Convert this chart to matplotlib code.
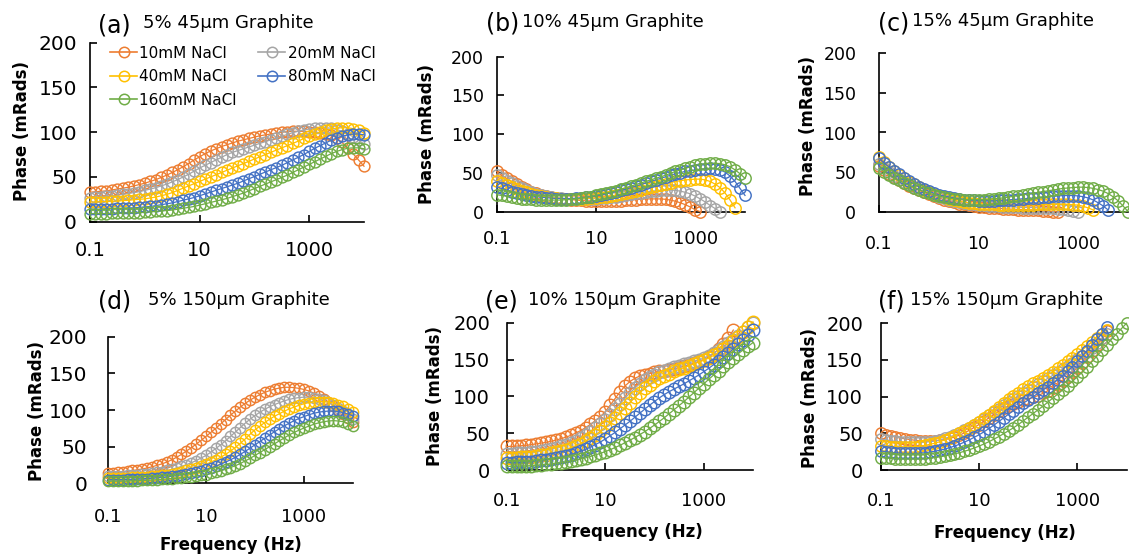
import matplotlib
matplotlib.use('Agg')
import matplotlib.pyplot as plt
from matplotlib.lines import Line2D
from matplotlib.ticker import NullLocator

# ---------------- data ----------------
FREQ = [0.1, 0.1259, 0.1585, 0.1995, 0.2512, 0.3162, 0.3981, 0.5012, 0.631, 0.7943,
        1.0, 1.259, 1.585, 1.995, 2.512, 3.162, 3.981, 5.012, 6.31, 7.943,
        10.0, 12.59, 15.85, 19.95, 25.12, 31.62, 39.81, 50.12, 63.1, 79.43,
        100.0, 125.9, 158.5, 199.5, 251.2, 316.2, 398.1, 501.2, 631.0, 794.3,
        1000.0, 1259.0, 1585.0, 1995.0, 2512.0, 3162.0, 3981.0, 5012.0, 6310.0, 7943.0,
        10000.0]

SERIES_NAMES = ['10mM NaCl', '20mM NaCl', '40mM NaCl', '80mM NaCl', '160mM NaCl']
PANEL_TITLES = ['5% 45\u00b5m Graphite', '10% 45\u00b5m Graphite', '15% 45\u00b5m Graphite',
                '5% 150\u00b5m Graphite', '10% 150\u00b5m Graphite', '15% 150\u00b5m Graphite']
PANEL_TAGS = ['(a)', '(b)', '(c)', '(d)', '(e)', '(f)']
X_TICKS = [0.1, 10, 1000]
X_TICK_LABELS = ['0.1', '10', '1000']
Y_TICKS = [0, 50, 100, 150, 200]

# (a) 5% 45um
A_10 = [33, 33.5, 34, 34.5, 35.5, 36.5, 37.5, 38.5, 40, 41.5, 43, 45, 47, 49.5, 52, 55, 58, 61.5, 65, 69,
        72.5, 76, 79, 81.5, 84, 86, 88, 90, 91.5, 93, 94.5, 96, 97, 98, 99, 100, 100.5, 101, 101, 101,
        100.5, 100, 99.5, 98.5, 97, 93.5, 88.5, 82.5, 76, 69, 62]
A_20 = [27, 27.5, 28, 28.5, 29, 29.5, 30.5, 31.5, 32.5, 33.5, 35, 36.5, 38, 40, 42, 44.5, 47, 50, 53, 56.5,
        60, 63, 66, 69, 72, 75, 77.5, 79.5, 81.5, 83.5, 85.5, 87.5, 89.5, 91.5, 93.5, 95.5, 97.5, 99.5, 101, 102.5,
        103.5, 104.5, 105, 105, 104.5, 103, 101, 98, 95, 91, 87]
A_40 = [22, 22, 22.5, 22.5, 23, 23, 23.5, 24, 24.5, 25, 25.5, 26.5, 27.5, 29, 30.5, 32.5, 35, 37.5, 40, 42.5,
        45, 47.5, 50, 52.5, 55, 57.5, 60, 62.5, 65, 67.5, 70, 72.5, 75, 77.5, 80, 82.5, 85, 87.5, 90, 93,
        95.5, 98, 100, 102, 103.5, 104.5, 105, 105, 104, 102, 99]
A_80 = [14, 14, 14, 14.5, 14.5, 15, 15, 15.5, 15.5, 16, 16.5, 17, 18, 19, 20, 21, 22.5, 24, 25.5, 27,
        29, 31, 33, 35, 37, 39, 41, 43, 45.5, 48, 50.5, 53, 55.5, 58, 60.5, 63, 66, 69, 72, 75,
        78.5, 82, 85, 88, 91, 93.5, 95.5, 97, 98, 98, 97]
A_160 = [9, 9, 9, 9, 9.5, 9.5, 9.5, 10, 10, 10, 10.5, 11, 11.5, 12, 12.5, 13, 14, 15, 16, 17,
         18.5, 20, 21.5, 23, 24.5, 26, 28, 30, 32, 34.5, 37, 39.5, 42, 44.5, 47, 49.5, 52, 55, 58, 61,
         64, 67, 70, 73, 76, 78.5, 80.5, 82, 82.5, 82.5, 81.5]

# (b) 10% 45um
B_10 = [52, 47, 43, 39, 35.5, 32, 29, 26, 24, 22, 20.5, 19, 18, 17, 16, 15.5, 15, 14.5, 14, 14,
        13.5, 13.5, 13.5, 13.5, 14, 14, 14.5, 15, 15.5, 16, 16.5, 16.5, 16.5, 16.5, 16, 15, 13.5, 11.5, 9, 6,
        2.5, 0]
B_20 = [48, 44, 40, 36.5, 33, 30, 27.5, 25, 23, 21.5, 20, 19, 18, 17.5, 17, 16.5, 16.5, 16.5, 16.5, 17,
        17, 17.5, 18, 18.5, 19.5, 20.5, 21.5, 22.5, 23.5, 24.5, 25.5, 26.5, 27, 27.5, 28, 28, 27.5, 26.5, 25, 23,
        20, 16.5, 12.5, 8, 4, 0]
B_40 = [40, 37, 34, 31.5, 29, 27, 25, 23, 21.5, 20, 19, 18, 17.5, 17, 16.5, 16.5, 16.5, 16.5, 17, 17.5,
        18, 18.5, 19.5, 20.5, 21.5, 22.5, 24, 25.5, 27, 28.5, 30, 31.5, 33, 34.5, 36, 37.5, 39, 40, 41, 41.5,
        42, 42, 41, 39, 35.5, 31, 24, 15, 5]
B_80 = [32, 30, 28, 26, 24.5, 23, 21.5, 20.5, 19.5, 18.5, 18, 17.5, 17, 17, 17, 17, 17.5, 18, 18.5, 19.5,
        20.5, 21.5, 23, 24.5, 26, 27.5, 29, 31, 33, 35, 37, 39, 41, 43, 45, 47, 49, 50.5, 52, 53,
        54, 55, 55.5, 56, 55.5, 54, 51, 46, 39, 30, 21]
B_160 = [22, 21, 20, 19, 18, 17, 16.5, 16, 15.5, 15, 15, 15, 15, 15, 15.5, 16, 16.5, 17.5, 18.5, 19.5,
         21, 22.5, 24, 25.5, 27, 29, 31, 33, 35, 37, 39, 41, 43, 45, 47, 49.5, 52, 54, 56, 58,
         60, 61, 62, 62.5, 62.5, 62, 60.5, 58, 54, 49, 43]

# (c) 15% 45um
C_10 = [58, 53, 48.5, 44.5, 40.5, 37, 33.5, 30.5, 27.5, 25, 22.5, 20, 18, 16, 14, 12.5, 11, 10, 9, 8,
        7, 6.5, 6, 5.5, 5, 4.5, 4, 4, 3.5, 3.5, 3, 3, 2.5, 2, 1.5, 1, 0.5]
C_20 = [60, 55, 50, 46, 42, 38.5, 35, 32, 29, 26.5, 24, 21.5, 19.5, 17.5, 16, 14.5, 13, 12, 11, 10,
        9.5, 9, 8.5, 8, 7.5, 7, 7, 6.5, 6.5, 6, 6, 6, 5.5, 5.5, 5, 5, 4.5, 4, 3, 2,
        1]
C_40 = [69, 63, 57, 52, 47, 42.5, 38.5, 35, 31.5, 28.5, 25.5, 23, 21, 19, 17, 15.5, 14, 13, 12, 11.5,
        11, 10.5, 10, 10, 9.5, 9.5, 9.5, 9.5, 9.5, 9.5, 9.5, 9.5, 10, 10, 10, 10, 10, 10, 10, 9.5,
        9, 7.5, 5.5, 3]
C_80 = [68, 62, 57, 52, 47.5, 43, 39, 35.5, 32, 29, 26.5, 24, 22, 20.5, 19, 18, 17, 16, 15.5, 15,
        14.5, 14.5, 14.5, 14.5, 15, 15, 15.5, 16, 16.5, 17, 17.5, 18, 18.5, 19, 19.5, 20, 20.5, 21, 21, 21,
        20.5, 19.5, 18, 15.5, 12, 8, 3]
C_160 = [55, 51, 47, 43, 40, 37, 34, 31, 28.5, 26, 24, 22, 20.5, 19, 18, 17, 16.5, 16, 16, 16,
         16, 16, 16.5, 17, 17.5, 18, 19, 20, 21, 22, 23, 24, 25, 26, 27, 28, 29, 30, 30.5, 31,
         31.5, 31.5, 31, 30, 28.5, 26.5, 23.5, 19.5, 14.5, 8, 1]

# (d) 5% 150um
D_10 = [14, 14.5, 15, 15.5, 16.5, 17.5, 18.5, 19.5, 21, 22.5, 24.5, 26.5, 29, 32, 35.5, 39.5, 44, 48.5, 53.5, 58.5,
        64, 69.5, 75, 81, 87, 93, 98.5, 104, 109, 113.5, 117.5, 121, 124, 126.5, 128.5, 130, 131, 131, 130.5, 129.5,
        128, 126, 123, 119.5, 115.5, 111, 106, 100.5, 95, 89, 83]
D_20 = [10, 10, 10.5, 10.5, 11, 11.5, 12, 12.5, 13, 14, 15, 16, 17.5, 19, 21, 23, 25.5, 28, 31, 34.5,
        38, 42.5, 47.5, 52.5, 58, 64, 70, 76, 82, 87.5, 92.5, 97, 101, 104.5, 107.5, 110, 112.5, 114.5, 116, 117,
        117.5, 117.5, 117, 115.5, 113, 110, 106.5, 102.5, 98, 93, 88]
D_40 = [7, 7, 7, 7.5, 7.5, 8, 8, 8.5, 9, 9.5, 10, 11, 12, 13, 14.5, 16, 17.5, 19.5, 21.5, 23.5,
        26, 29, 32, 35.5, 39.5, 44, 49, 54.5, 60.5, 67, 73, 78, 83, 87.5, 91.5, 95, 98.5, 101.5, 104, 106.5,
        108.5, 110, 111, 111.5, 111.5, 111, 109.5, 107.5, 105, 101.5, 97]
D_80 = [5, 5, 5, 5, 5.5, 5.5, 6, 6, 6.5, 7, 7.5, 8, 8.5, 9.5, 10.5, 11.5, 12.5, 14, 15.5, 17,
        19, 21, 23.5, 26, 29, 32, 35.5, 39.5, 43.5, 48, 52.5, 57, 61.5, 66, 70.5, 74.5, 78.5, 82, 85.5, 88.5,
        91, 93.5, 95.5, 97, 98, 98.5, 98.5, 98, 96.5, 94.5, 92]
D_160 = [3, 3, 3, 3, 3, 3.5, 3.5, 4, 4, 4.5, 5, 5.5, 6, 6.5, 7, 7.5, 8, 9, 10, 11,
         12, 13.5, 15, 17, 19, 21.5, 24, 27, 30.5, 34, 38, 42, 46, 50, 54, 58, 62, 66, 69.5, 72.5,
         75.5, 78, 80.5, 82.5, 84, 85, 85.5, 85, 84, 81.5, 78]

# (e) 10% 150um
E_10 = [32, 32, 32.5, 33, 33.5, 34.5, 35.5, 36.5, 37.5, 39, 40.5, 42.5, 44.5, 47, 50, 53.5, 57.5, 62, 67, 72.5,
        79, 88, 97, 106, 114, 120, 124.5, 127.5, 129.5, 131, 132.5, 134, 135, 136, 137.5, 139, 141, 143, 145, 147.5,
        150, 153.5, 158, 164, 171, 179, 190]
E_20 = [22, 22, 22.5, 23, 23.5, 24, 25, 26, 27, 28.5, 30, 32, 34, 36.5, 39.5, 43, 47, 51.5, 56.5, 62,
        68, 75, 82.5, 90, 97.5, 104.5, 111, 117, 122, 126, 129.5, 132.5, 135, 137.5, 139.5, 141.5, 143.5, 145.5, 147.5, 149.5,
        152, 155, 158.5, 162.5, 167, 172, 177, 182.5, 188, 194, 200]
E_40 = [16, 16, 16.5, 17, 17.5, 18, 19, 20, 21, 22.5, 24, 25.5, 27.5, 30, 32.5, 35.5, 39, 43, 47.5, 52.5,
        58, 64, 70.5, 77.5, 84.5, 91.5, 98.5, 105, 111, 116, 120.5, 124.5, 128, 131, 134, 136.5, 139, 141.5, 144, 146.5,
        149, 152, 155.5, 159.5, 164, 169, 174.5, 180.5, 187, 194, 201]
E_80 = [10, 10, 10.5, 10.5, 11, 11.5, 12, 13, 14, 15, 16, 17.5, 19, 21, 23, 25.5, 28, 31, 34.5, 38,
        42, 46.5, 51, 56, 61, 66, 71.5, 77, 82.5, 88, 93, 98, 102.5, 106.5, 110, 113.5, 117, 121, 125, 129,
        133.5, 138, 143, 148, 153, 158.5, 164.5, 170.5, 177, 183.5, 190]
E_160 = [5, 5, 5, 5.5, 5.5, 6, 6.5, 7, 7.5, 8, 9, 10, 11, 12, 13.5, 15, 16.5, 18.5, 20.5, 22.5,
         25, 27.5, 30.5, 33.5, 37, 40.5, 44, 48, 52, 56.5, 61, 66, 71, 76.5, 82, 87.5, 93, 99, 105, 111,
         117, 123, 129, 135, 141, 147, 152.5, 158, 163, 168, 173]

# (f) 15% 150um
F_10 = [50, 48, 46.5, 45, 43.5, 42.5, 41.5, 40.5, 40, 39.5, 39.5, 40, 40.5, 41.5, 43, 45, 47.5, 50.5, 54, 58,
        62, 66.5, 71, 75.5, 80, 84, 87.5, 90.5, 93, 95, 97, 99, 101.5, 104.5, 108, 112, 116.5, 121.5, 127, 133,
        139.5, 146.5, 154, 162, 170.5, 179.5, 189]
F_20 = [42, 41, 40, 39, 38.5, 38, 37.5, 37.5, 37.5, 38, 38.5, 39.5, 41, 43, 45, 47.5, 50.5, 54, 57.5, 61.5,
        65.5, 70, 74.5, 79, 83.5, 88, 92.5, 97, 101, 105, 109, 113, 117, 121, 125, 129, 133, 137.5, 142, 146.5,
        151, 156, 161.5, 167, 173, 179.5, 186]
F_40 = [33, 32.5, 32, 31.5, 31.5, 31.5, 31.5, 32, 32.5, 33.5, 35, 36.5, 38.5, 41, 43.5, 46.5, 50, 53.5, 57.5, 61.5,
        66, 70.5, 75.5, 80.5, 86, 91.5, 96.5, 101, 105.5, 110, 114, 118, 122, 126, 130, 134, 138.5, 143, 148, 153,
        158.5, 164, 169.5, 175, 180.5, 186, 191]
F_80 = [26, 25, 24, 23.5, 23, 22.5, 22.5, 22.5, 23, 23.5, 24.5, 25.5, 27, 28.5, 30.5, 32.5, 35, 38, 41, 44.5,
        48, 52, 56.5, 61, 66, 71, 76, 81, 86, 91, 95.5, 100, 104.5, 109, 113.5, 118, 123, 128.5, 134.5, 141,
        148, 155, 162.5, 170, 178, 186, 195]
F_160 = [17, 16.5, 16, 15.5, 15, 15, 15, 15, 15, 15.5, 16, 17, 18, 19, 20.5, 22, 23.5, 25.5, 27.5, 30,
         32.5, 35.5, 38.5, 42, 45.5, 49.5, 53.5, 57.5, 62, 67, 72, 77, 82, 87, 92.5, 98, 103.5, 109, 115, 121,
         127, 133.5, 140.5, 148, 155.5, 163, 171, 178.5, 186, 193, 200]

PANEL_DATA = [
    [A_10, A_20, A_40, A_80, A_160],
    [B_10, B_20, B_40, B_80, B_160],
    [C_10, C_20, C_40, C_80, C_160],
    [D_10, D_20, D_40, D_80, D_160],
    [E_10, E_20, E_40, E_80, E_160],
    [F_10, F_20, F_40, F_80, F_160],
]

# ---------------- style / layout ----------------
COLORS = ['#ED7D31', '#A5A5A5', '#FFC000', '#4472C4', '#70AD47']
W, H = 1129, 558

# pixel geometry: left, right(x=1e4), bottom(y=0), top(y=200)
GEOM = [
    (90, 364, 221.7, 42.7),
    (496.7, 745, 211.7, 56.7),
    (879, 1128, 212.3, 52.7),
    (108, 353, 483.3, 336.7),
    (506.7, 753, 470, 322.7),
    (880.7, 1126.5, 470, 323.3),
]
YTICK_FS = [14.5, 12.5, 12.5, 14.5, 14, 14]
XTICK_FS = [14, 13, 12.5, 13, 13, 13]
XPAD = [13.7, 13.2, 16.5, 18, 15.8, 15.8]
YPAD = [9.4, 9.1, 16.3, 15.1, 12.0, 12.7]
MS = [7.8, 8.2, 8.2, 7.4, 9.0, 8.2]
YLABEL_POS = [(22, 131), (426.7, 134), (808, 126), (36.7, 411), (435, 396), (810, 397.5)]
TAG_POS = [(98, 32.5), (486, 31), (878, 31), (98, 309), (485, 309), (878, 309)]
TITLE_POS = [(143, 27.5), (522, 27), (912, 26.5), (148, 305), (528, 305), (910, 305)]
XLABEL_POS = [None, None, None, (231, 545), (631.7, 531.7), (1005, 533)]

fig = plt.figure(figsize=(W / 100, H / 100), dpi=100)

def fx(x):
    return x / W

def fy(y):
    return 1 - y / H

for i in range(6):
    l, r, b, t = GEOM[i]
    ax = fig.add_axes([fx(l), fy(b), (r - l) / W, (b - t) / H])
    ax.set_xscale('log')
    ax.set_xlim(0.1, 10000)
    ax.set_ylim(0, 200)
    for s in ['top', 'right']:
        ax.spines[s].set_visible(False)
    for s in ['left', 'bottom']:
        ax.spines[s].set_linewidth(1.2)
        ax.spines[s].set_color('black')
    ax.set_xticks(X_TICKS)
    ax.set_xticklabels(X_TICK_LABELS)
    ax.xaxis.set_minor_locator(NullLocator())
    ax.set_yticks(Y_TICKS)
    ax.tick_params(axis='both', direction='in', length=5, width=1.2, color='black')
    ax.tick_params(axis='x', labelsize=XTICK_FS[i], pad=XPAD[i])
    ax.tick_params(axis='y', labelsize=YTICK_FS[i], pad=YPAD[i])
    ax.patch.set_alpha(0)

    for k, ys in enumerate(PANEL_DATA[i]):
        ax.plot(FREQ[:len(ys)], ys, color=COLORS[k], lw=0.9, marker='o', ms=MS[i],
                mfc='none', mec=COLORS[k], mew=1.05, clip_on=False, zorder=3 + k)

    fig.text(fx(YLABEL_POS[i][0]), fy(YLABEL_POS[i][1]), 'Phase (mRads)', rotation=90,
             ha='center', va='center', fontsize=12, fontweight='bold')
    fig.text(fx(TAG_POS[i][0]), fy(TAG_POS[i][1]), PANEL_TAGS[i], ha='left', va='baseline',
             fontsize=17)
    fig.text(fx(TITLE_POS[i][0]), fy(TITLE_POS[i][1]), PANEL_TITLES[i], ha='left', va='baseline',
             fontsize=13)
    if XLABEL_POS[i] is not None:
        fig.text(fx(XLABEL_POS[i][0]), fy(XLABEL_POS[i][1]), 'Frequency (Hz)', ha='center',
                 va='center', fontsize=12, fontweight='bold')

    if i == 0:
        handles = [Line2D([], [], color=COLORS[k], lw=1.2, marker='o', ms=7.5, mfc='none',
                          mec=COLORS[k], mew=1.1) for k in range(5)]
        order = [0, 2, 4, 1, 3]
        ax.legend([handles[k] for k in order], [SERIES_NAMES[k] for k in order],
                  loc='upper left', bbox_to_anchor=(fx(110), fy(45.5)),
                  bbox_transform=fig.transFigure, ncol=2, frameon=False, fontsize=11,
                  borderpad=0, borderaxespad=0, handlelength=1.77, handletextpad=0.15,
                  columnspacing=1.4, labelspacing=0.56, numpoints=1)

fig.savefig('out.png', dpi=100)
